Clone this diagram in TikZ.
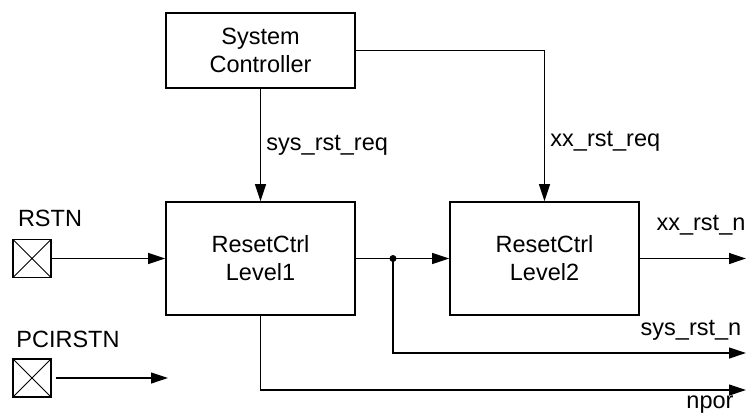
\documentclass[tikz,border=0pt]{standalone}
\usepackage{fontspec}
\setmainfont{Liberation Sans}
\usetikzlibrary{arrows.meta,positioning,calc}

\tikzset{
  block/.style={draw,line width=1.8pt,minimum width=189pt,align=center},
  pad/.style={draw,line width=1.1pt,minimum size=38pt,inner sep=0pt,
    path picture={\draw[line width=0.9pt] (path picture bounding box.south west) -- (path picture bounding box.north east)
      (path picture bounding box.north west) -- (path picture bounding box.south east);}},
  wire/.style={line width=1.2pt}
}

\begin{document}
\begin{tikzpicture}[x=1pt,y=-1pt,>={Triangle[length=17pt,width=11pt]},
    every node/.style={font=\fontsize{23.5}{28}\selectfont}]
    \useasboundingbox (0,0) rectangle (746,417);
    % blocks
    \node[block,minimum height=75pt] (ctrl) at (260.5,50.5) {System\\Controller};
    \node[block,minimum height=113pt] (lvl1) at (260.5,258.5) {ResetCtrl\\Level1};
    \node[block,minimum height=113pt] (lvl2) at (544.5,258.5) {ResetCtrl\\Level2};
    % pads
    \node[pad] (rstn) at (32,258.5) {};
    \node[pad] (pcirstn) at (32,378) {};
    \node (rstnlbl) at (50,218) {RSTN};
    \node (pcilbl) at (68,339) {PCIRSTN};
    % ends
    \coordinate (pciend) at (168,378);
    \coordinate (split) at (393,258.5);
    \coordinate (xxout) at (746,258.5);
    \coordinate (sysout) at (746,353);
    \coordinate (nporout) at (746,390);
    \draw[->,wire] (rstn) -- (lvl1);
    \draw[->,wire] ([xshift=4pt]pcirstn.east) -- (pciend);
    \draw[->,wire] (ctrl) -- (lvl1) node[midway,right=2pt] (sysreq) {sys\_rst\_req};
    \draw[->,wire] (ctrl.east) -| (lvl2.north) node[pos=0.8,right=2pt] (xxreq) {xx\_rst\_req};
    \draw[->,wire] (lvl1) -- (lvl2);
    \fill (split) circle (3.5pt);
    \draw[->,wire] (split) |- (sysout);
    \draw[->,wire] (lvl2) -- (xxout);
    \draw[->,wire] (lvl1.south) |- (nporout);
    \node (xxlbl) at (701,225) {xx\_rst\_n};
    \node (syslbl) at (691,330) {sys\_rst\_n};
    \node (nporlbl) at (710,405) {npor};
\end{tikzpicture}
\end{document}
